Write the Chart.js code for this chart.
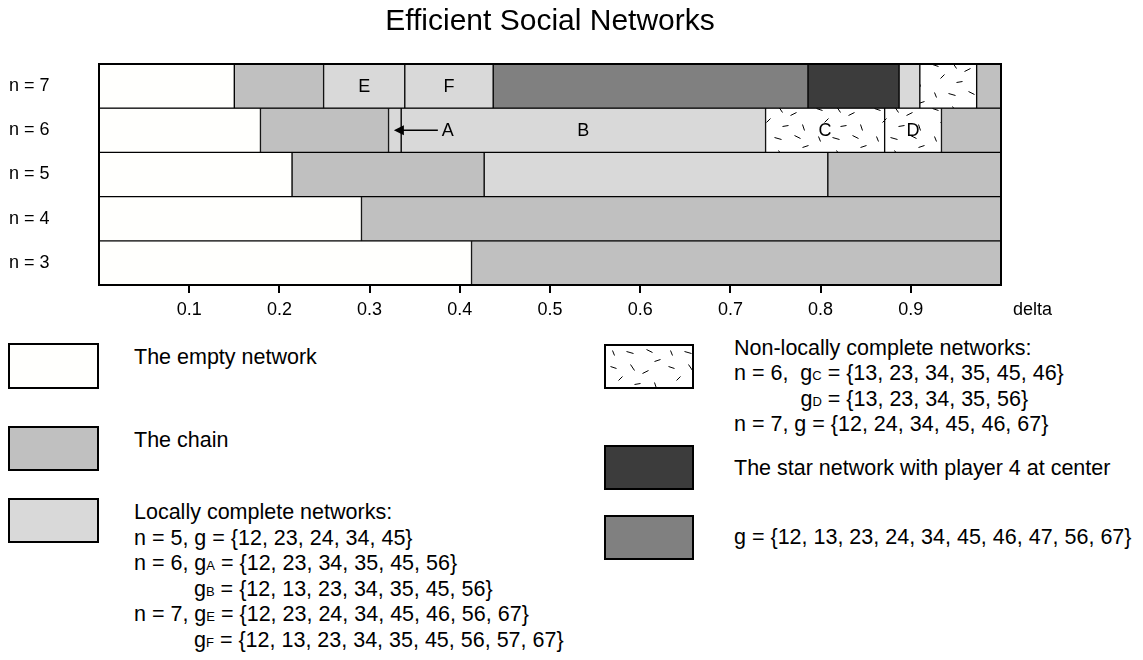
<!DOCTYPE html>
<html><head><meta charset="utf-8">
<script src="https://cdn.jsdelivr.net/npm/chart.js@4.4.0/dist/chart.umd.min.js"></script>
<style>
html,body{margin:0;padding:0;background:#fff;}
body{width:1143px;height:660px;position:relative;overflow:hidden;font-family:"Liberation Sans",Arial,sans-serif;color:#000;}
#wrap{position:absolute;left:0;top:0;width:1143px;height:330px;}
.box{position:absolute;box-sizing:border-box;border:2px solid #000;}
.t{position:absolute;font-size:21.5px;line-height:26px;height:26px;white-space:nowrap;}
.s{font-size:13px;}
</style></head>
<body>
<div id="wrap"><canvas id="c" width="1143" height="330"></canvas></div>

<div class="box" style="left:8px;top:343px;width:91px;height:46px;background:#FFFFFD"></div>
<div class="t" style="left:134px;top:344px">The empty network</div>
<div class="box" style="left:8px;top:426px;width:91px;height:45px;background:#C0C0C0"></div>
<div class="t" style="left:134px;top:427px">The chain</div>
<div class="box" style="left:8px;top:498px;width:91px;height:45px;background:#D9D9D9"></div>
<div class="t" style="left:134px;top:499px">Locally complete networks:</div>
<div class="t" style="left:134px;top:524.5px">n = 5, g = {12, 23, 24, 34, 45}</div>
<div class="t" style="left:134px;top:550px">n = 6, g<span class="s">A</span> = {12, 23, 34, 35, 45, 56}</div>
<div class="t" style="left:194px;top:575.5px">g<span class="s">B</span> = {12, 13, 23, 34, 35, 45, 56}</div>
<div class="t" style="left:134px;top:601px">n = 7, g<span class="s">E</span> = {12, 23, 24, 34, 45, 46, 56, 67}</div>
<div class="t" style="left:194px;top:626.5px">g<span class="s">F</span> = {12, 13, 23, 34, 35, 45, 56, 57, 67}</div>

<div class="box" id="lgNonLocal" style="left:604px;top:344px;width:90px;height:45px;background-color:#fff"></div>
<div class="t" style="left:734px;top:334.5px">Non-locally complete networks:</div>
<div class="t" style="left:734px;top:360px">n = 6,&nbsp; g<span class="s">C</span> = {13, 23, 34, 35, 45, 46}</div>
<div class="t" style="left:800.5px;top:385.5px">g<span class="s">D</span> = {13, 23, 34, 35, 56}</div>
<div class="t" style="left:734px;top:411px">n = 7, g = {12, 24, 34, 45, 46, 67}</div>
<div class="box" style="left:604px;top:445px;width:90px;height:45px;background:#3C3C3C"></div>
<div class="t" style="left:734px;top:455px">The star network with player 4 at center</div>
<div class="box" style="left:604px;top:515px;width:90px;height:45px;background:#808080"></div>
<div class="t" style="left:734px;top:524px">g = {12, 13, 23, 24, 34, 45, 46, 47, 56, 67}</div>

<script>
// ---- data ----
const categories = ['n = 7', 'n = 6', 'n = 5', 'n = 4', 'n = 3'];
const xTickValues = [0.1, 0.2, 0.3, 0.4, 0.5, 0.6, 0.7, 0.8, 0.9];

const n7Ends  = [0.150, 0.249, 0.339, 0.437, 0.786, 0.887, 0.910, 0.973, 1.0];
const n7Kinds = ['empty', 'chain', 'local', 'local', 'gDense', 'star', 'local', 'nonLocal', 'chain'];
const n7Marks = ['', '', 'E', 'F', '', '', '', '', ''];

const n6Ends  = [0.179, 0.321, 0.335, 0.739, 0.871, 0.934, 1.0];
const n6Kinds = ['empty', 'chain', 'local', 'local', 'nonLocal', 'nonLocal', 'chain'];
const n6Marks = ['', '', 'A', 'B', 'C', 'D', ''];

const n5Ends  = [0.214, 0.427, 0.808, 1.0];
const n5Kinds = ['empty', 'chain', 'local', 'chain'];

const n4Ends  = [0.291, 1.0];
const n4Kinds = ['empty', 'chain'];

const n3Ends  = [0.413, 1.0];
const n3Kinds = ['empty', 'chain'];

// ---- styling ----
function makePatternTile() {
  const t = document.createElement('canvas');
  t.width = 58; t.height = 44;
  const g = t.getContext('2d');
  g.fillStyle = '#ffffff';
  g.fillRect(0, 0, t.width, t.height);
  g.strokeStyle = '#000';
  g.lineWidth = 1;
  const dashes = [
    [6,4,8,9],[20,5,27,7],[40,3,46,6],[48,15,54,13],[4,20,10,22],
    [24,18,28,24],[36,27,42,24],[12,34,16,30],[28,38,34,37],[48,36,50,42]
  ];
  dashes.forEach(d => { g.beginPath(); g.moveTo(d[0]+0.5, d[1]+0.5); g.lineTo(d[2]+0.5, d[3]+0.5); g.stroke(); });
  return t;
}
const tile = makePatternTile();
const cvs = document.getElementById('c');
const ctx0 = cvs.getContext('2d');
const hatch = ctx0.createPattern(tile, 'repeat');
document.getElementById('lgNonLocal').style.backgroundImage = 'url(' + tile.toDataURL() + ')';

const fills = {
  empty: '#FFFFFD', chain: '#C0C0C0', local: '#D9D9D9',
  gDense: '#808080', star: '#3C3C3C', nonLocal: hatch
};

const rows = [
  { ends: n7Ends, kinds: n7Kinds, marks: n7Marks },
  { ends: n6Ends, kinds: n6Kinds, marks: n6Marks },
  { ends: n5Ends, kinds: n5Kinds },
  { ends: n4Ends, kinds: n4Kinds },
  { ends: n3Ends, kinds: n3Kinds }
];

const datasets = [];
rows.forEach((row, ri) => {
  let start = 0;
  row.ends.forEach((end, si) => {
    datasets.push({
      label: categories[ri] + ' ' + row.kinds[si],
      data: categories.map((_, ci) => ci === ri ? [start, end] : null),
      backgroundColor: fills[row.kinds[si]],
      borderColor: '#000',
      borderWidth: 1,
      borderSkipped: false,
      grouped: false,
      barPercentage: 1,
      categoryPercentage: 1,
      mark: row.marks ? row.marks[si] : '',
      rowIndex: ri
    });
    start = end;
  });
});

const FONT = '"Liberation Sans", Arial, sans-serif';

const overlay = {
  id: 'overlay',
  afterDatasetsDraw(chart) {
    const ctx = chart.ctx;
    const a = chart.chartArea;
    ctx.save();
    ctx.strokeStyle = '#000';
    ctx.lineWidth = 2;
    ctx.strokeRect(a.left, a.top, a.right - a.left, a.bottom - a.top);
    ctx.fillStyle = '#000';
    ctx.font = '18px ' + FONT;
    ctx.textBaseline = 'middle';
    chart.data.datasets.forEach((ds, i) => {
      if (!ds.mark) return;
      const el = chart.getDatasetMeta(i).data[ds.rowIndex];
      const xc = (el.x + el.base) / 2;
      const y = el.y;
      if (ds.mark === 'A') {
        ctx.lineWidth = 1.5;
        ctx.beginPath();
        ctx.moveTo(xc + 6, y);
        ctx.lineTo(xc + 43, y);
        ctx.stroke();
        ctx.beginPath();
        ctx.moveTo(xc - 1, y);
        ctx.lineTo(xc + 9, y - 5);
        ctx.lineTo(xc + 9, y + 5);
        ctx.closePath();
        ctx.fill();
        ctx.textAlign = 'left';
        ctx.fillText('A', xc + 47, y + 1);
      } else {
        ctx.textAlign = 'center';
        ctx.fillText(ds.mark, xc, y + 1);
      }
    });
    ctx.restore();
  },
  afterDraw(chart) {
    const ctx = chart.ctx;
    const xs = chart.scales.x;
    ctx.save();
    ctx.fillStyle = '#000';
    ctx.font = '18px ' + FONT;
    ctx.textAlign = 'left';
    ctx.textBaseline = 'middle';
    ctx.fillText('delta', xs.right + 12, xs.top + 25);
    ctx.restore();
  }
};

new Chart(cvs, {
  type: 'bar',
  data: { labels: categories, datasets },
  plugins: [overlay],
  options: {
    indexAxis: 'y',
    responsive: false,
    animation: false,
    events: [],
    layout: { padding: { left: 9, right: 142, top: 0, bottom: 0 } },
    plugins: {
      legend: { display: false },
      tooltip: { enabled: false },
      title: {
        display: true,
        fullSize: false,
        text: 'Efficient Social Networks',
        color: '#000',
        font: { family: FONT, size: 30, weight: 'normal' },
        padding: { top: 4, bottom: 24 }
      }
    },
    scales: {
      x: {
        type: 'linear',
        min: 0, max: 1,
        afterBuildTicks(scale) { scale.ticks = xTickValues.map(v => ({ value: v })); },
        afterFit(scale) { scale.height = 45; },
        border: { display: false },
        grid: { drawOnChartArea: false, drawTicks: true, tickLength: 8, color: '#000', lineWidth: 2 },
        ticks: {
          color: '#000', padding: 6,
          font: { family: FONT, size: 18 },
          callback: v => Number(v).toFixed(1)
        }
      },
      y: {
        type: 'category',
        afterFit(scale) { scale.width = 90; },
        border: { display: false },
        grid: { display: false },
        ticks: { color: '#000', crossAlign: 'far', font: { family: FONT, size: 18 } }
      }
    }
  }
});
</script>
</body></html>
